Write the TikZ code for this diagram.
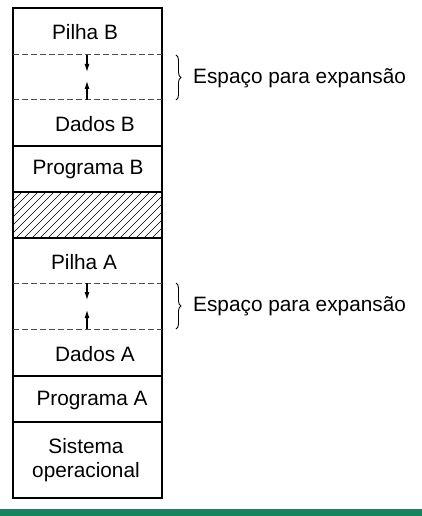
\documentclass[tikz,border=0pt]{standalone}
\usepackage{fontspec}
\setmainfont{Liberation Sans}
\usepackage{xcolor}
\usetikzlibrary{arrows.meta, decorations.pathreplacing, positioning}

\definecolor{barGreen}{RGB}{22,132,92}
\tikzset{
	memline/.style={line width=1.6pt},
	gapline/.style={line width=1pt, dash pattern=on 5.5pt off 3.5pt, black!70},
	growarrow/.style={line width=1.1pt, -{Latex[length=8pt, width=5pt]}},
	hatchline/.style={line width=0.7pt},
	memlabel/.style={font=\fontsize{20.8}{24.5}\selectfont, inner sep=0pt, align=center},
	gapbrace/.style={line width=0.9pt, decorate, decoration={brace, amplitude=5pt}},
}

\begin{document}
\begin{tikzpicture}[x=1pt, y=-1pt]
	\useasboundingbox (0, 0) rectangle (422, 516);
	% Paths, nodes and wires:
	\fill[barGreen] (0, 509) rectangle (422, 516);
	\begin{scope}
		\clip (13, 192) rectangle (162, 238);
		\foreach \k in {-40, -32, ..., 170}
			\draw[hatchline] (\k, 238) -- ++(50, -50);
	\end{scope}
	\draw[memline] (13, 8) rectangle (162, 498);
	\draw[memline] (13, 146) -- (162, 146);
	\draw[memline] (13, 192) -- (162, 192);
	\draw[memline] (13, 238) -- (162, 238);
	\draw[memline] (13, 376) -- (162, 376);
	\draw[memline] (13, 422) -- (162, 422);
	\draw[gapline] (13, 55) -- (162, 55);
	\draw[gapline] (13, 100) -- (162, 100);
	\draw[gapline] (13, 283) -- (162, 283);
	\draw[gapline] (13, 329) -- (162, 329);
	\coordinate (stackB) at (87, 55);
	\coordinate (stackBtip) at (87, 72);
	\coordinate (dataB) at (87, 100);
	\coordinate (dataBtip) at (87, 81);
	\coordinate (stackA) at (87, 283);
	\coordinate (stackAtip) at (87, 300);
	\coordinate (dataA) at (87, 329);
	\coordinate (dataAtip) at (87, 310);
	\draw[growarrow] (stackB) -- (stackBtip);
	\draw[growarrow] (dataB) -- (dataBtip);
	\draw[growarrow] (stackA) -- (stackAtip);
	\draw[growarrow] (dataA) -- (dataAtip);
	\node[memlabel] (pilhaB) at (85, 32){Pilha B};
	\node[memlabel] (dadosB) at (95, 124){Dados B};
	\node[memlabel] (programaB) at (88, 170){Programa B};
	\node[memlabel] (pilhaA) at (84, 262){Pilha A};
	\node[memlabel] (dadosA) at (95, 354){Dados A};
	\node[memlabel] (programaA) at (92, 400){Programa A};
	\node[memlabel] (sistema) at (86, 460){Sistema\\operacional};
	\coordinate (braceBtop) at (176, 55);
	\coordinate (braceBbot) at (176, 100);
	\coordinate (braceAtop) at (176, 283);
	\coordinate (braceAbot) at (176, 329);
	\draw[gapbrace] (braceBtop) -- (braceBbot);
	\draw[gapbrace] (braceAtop) -- (braceAbot);
	\node[memlabel, anchor=west] (espacoB) at (193, 78){Espaço para expansão};
	\node[memlabel, anchor=west] (espacoA) at (193, 306){Espaço para expansão};
\end{tikzpicture}
\end{document}
